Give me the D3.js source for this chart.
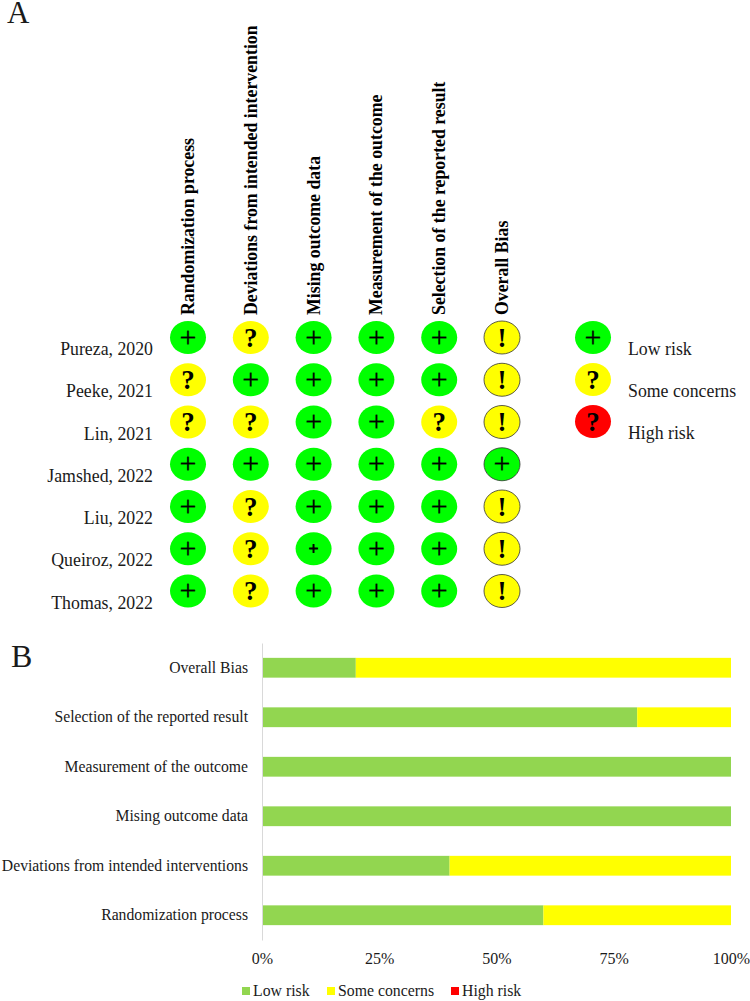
<!DOCTYPE html>
<html lang="en">
<head>
    <meta charset="UTF-8">
    <title>Risk of bias</title>
    <script src="https://cdn.jsdelivr.net/npm/d3@7/dist/d3.min.js"></script>
    <style>
        html, body { margin: 0; padding: 0; background: #fff; }
        svg { display: block; }
        text { font-family: "Liberation Serif", serif; fill: #1a1a1a; }
    </style>
</head>
<body>
<svg id="svg" width="750" height="1001"></svg>
<script>
    // panel A
    var domains = ["Randomization process", "Deviations from intended interventions", "Mising outcome data",
        "Measurement of the outcome", "Selection of the reported result", "Overall Bias"];
    var studies = ["Pureza, 2020", "Peeke, 2021", "Lin, 2021", "Jamshed, 2022", "Liu, 2022", "Queiroz, 2022", "Thomas, 2022"];
    var pureza = ["+", "?", "+", "+", "+", "!"];
    var peeke = ["?", "+", "+", "+", "+", "!"];
    var lin = ["?", "?", "+", "+", "?", "!"];
    var jamshed = ["+", "+", "+", "+", "+", "+"];
    var liu = ["+", "?", "+", "+", "+", "!"];
    var queiroz = ["+", "?", "+", "+", "+", "!"];
    var thomas = ["+", "?", "+", "+", "+", "!"];
    var ratings = [pureza, peeke, lin, jamshed, liu, queiroz, thomas];
    var keyLabels = ["Low risk", "Some concerns", "High risk"];
    var keyMarks = ["+", "?", "?"];
    var keyColors = ["#00ff00", "#ffff00", "#ff0000"];

    // panel B
    var barDomains = ["Overall Bias", "Selection of the reported result", "Measurement of the outcome",
        "Mising outcome data", "Deviations from intended interventions", "Randomization process"];
    var lowRisk = [20, 80, 100, 100, 40, 60];
    var someConcerns = [80, 20, 0, 0, 60, 40];
    var highRisk = [0, 0, 0, 0, 0, 0];
    var barKeys = ["Low risk", "Some concerns", "High risk"];
    var barColors = ["#92d650", "#ffff00", "#ff0000"];
    var ticks = [0, 25, 50, 75, 100];

    var svg = d3.select("#svg");

    svg.append("text").attr("x", 7).attr("y", 23).attr("font-size", 31).text("A");
    svg.append("text").attr("x", 11).attr("y", 667).attr("font-size", 32).text("B");

    var colX = d3.scalePoint().domain(domains).range([188, 502]);
    var rowY = d3.scalePoint().domain(studies).range([337.5, 591]);

    function mark(g, sign, size) {
        // the three signs are set at different sizes in the original
        var t = g.append("text").attr("text-anchor", "middle").style("fill", "#000").text(sign);
        if (sign === "+") {
            t.attr("font-size", size || 30).attr("y", size ? 5.5 : 9)
                .attr("stroke", "#000").attr("stroke-width", size ? 1 : 0.3);
        } else {
            t.attr("font-size", 27).attr("font-weight", "bold").attr("y", 9);
        }
    }

    svg.append("clipPath").attr("id", "headClip")
        .append("rect").attr("x", 0).attr("y", 26).attr("width", 750).attr("height", 300);

    svg.append("g").attr("clip-path", "url(#headClip)")
        .selectAll("text")
        .data(domains)
        .enter().append("text")
        .attr("transform", function (d) {
            return "translate(" + (colX(d) + 6) + ",315) rotate(-90)";
        })
        .attr("font-size", 17.8)
        .attr("font-weight", "bold")
        .style("fill", "#000")
        .text(function (d) { return d; });

    svg.append("g").selectAll("text")
        .data(studies)
        .enter().append("text")
        .attr("x", 153)
        .attr("y", function (d) { return rowY(d) + 17.5; })
        .attr("text-anchor", "end")
        .attr("font-size", 17.8)
        .text(function (d) { return d; });

    ratings.forEach(function (row, r) {
        row.forEach(function (sign, c) {
            var g = svg.append("g")
                .attr("transform", "translate(" + colX(domains[c]) + "," + rowY(studies[r]) + ")");
            g.append("ellipse")
                .attr("rx", 18)
                .attr("ry", 16.5)
                .attr("fill", sign === "+" ? keyColors[0] : keyColors[1])
                .attr("stroke", c === 5 ? "#333" : "none")
                .attr("stroke-width", 0.8);
            // one cell in the source has a smaller plus
            var small = studies[r] === "Queiroz, 2022" && domains[c] === "Mising outcome data";
            mark(g, sign, small ? 17 : null);
        });
    });

    var keyY = d3.scalePoint().domain(keyLabels).range([337.5, 421.5]);
    keyLabels.forEach(function (label, i) {
        var g = svg.append("g").attr("transform", "translate(593," + keyY(label) + ")");
        g.append("ellipse").attr("rx", 18).attr("ry", 16.5).attr("fill", keyColors[i]);
        mark(g, keyMarks[i]);
        svg.append("text")
            .attr("x", 628)
            .attr("y", keyY(label) + 17.5)
            .attr("font-size", 17.8)
            .text(label);
    });

    // stacked bars
    var x = d3.scaleLinear().domain([0, 100]).range([262, 731]);
    var y = d3.scaleBand().domain(barDomains).range([643, 940]).paddingInner(0.6).paddingOuter(0.3);

    var table = barDomains.map(function (d, i) {
        return {name: d, "Low risk": lowRisk[i], "Some concerns": someConcerns[i], "High risk": highRisk[i]};
    });
    var series = d3.stack().keys(barKeys)(table);

    svg.append("g").selectAll("g")
        .data(series)
        .enter().append("g")
        .attr("fill", function (d, i) { return barColors[i]; })
        .selectAll("rect")
        .data(function (d) { return d; })
        .enter().append("rect")
        .attr("x", function (d) { return x(d[0]); })
        .attr("y", function (d) { return y(d.data.name); })
        .attr("width", function (d) { return x(d[1]) - x(d[0]); })
        .attr("height", y.bandwidth());

    var yAxis = svg.append("g")
        .attr("transform", "translate(262,0)")
        .call(d3.axisLeft(y).tickSize(0).tickPadding(14));
    yAxis.select(".domain").attr("stroke", "#d9d9d9").attr("stroke-width", 1);
    yAxis.selectAll("text")
        .attr("font-size", 15.7)
        .style("font-family", '"Liberation Serif", serif');

    var xAxis = svg.append("g")
        .attr("transform", "translate(0,940)")
        .call(d3.axisBottom(x).tickValues(ticks).tickSize(0).tickPadding(13)
            .tickFormat(function (d) { return d + "%"; }));
    xAxis.select(".domain").remove();
    xAxis.selectAll("text")
        .attr("font-size", 16)
        .style("font-family", '"Liberation Serif", serif');

    var legendX = d3.scaleOrdinal().domain(barKeys).range([242, 327, 451]);
    barKeys.forEach(function (label, i) {
        svg.append("rect")
            .attr("x", legendX(label))
            .attr("y", 987)
            .attr("width", 8)
            .attr("height", 8)
            .attr("fill", barColors[i]);
        svg.append("text")
            .attr("x", legendX(label) + 11)
            .attr("y", 996)
            .attr("font-size", 15.8)
            .text(label);
    });
</script>
</body>
</html>
